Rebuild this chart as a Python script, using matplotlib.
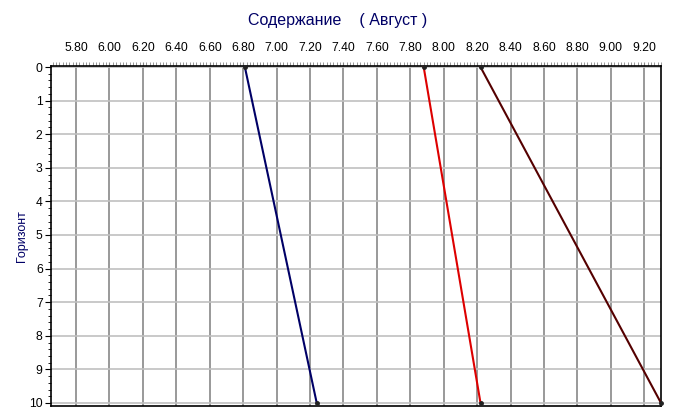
import matplotlib
matplotlib.use("Agg")
import matplotlib.pyplot as plt
from matplotlib.ticker import MultipleLocator, FormatStrFormatter

depth = [0, 10]
series_blue = [6.81, 7.24]
series_red = [7.88, 8.22]
series_brown = [8.22, 9.30]
colors = ["#000066", "#dd0000", "#550000"]

title = "Содержание    ( Август )"
ylabel = "Горизонт"

plt.rcParams['font.family'] = ['Liberation Sans', 'DejaVu Sans']
fig = plt.figure(figsize=(6.75, 4.19), dpi=100)
ax = fig.add_axes([51/675, 1-406/419, 610/675, (406-66)/419])

for vals, c in zip([series_blue, series_red, series_brown], colors):
    ax.plot(vals, depth, color=c, lw=1.5, zorder=3, clip_on=False)
    ax.plot(vals, depth, 'o', color='#222222', ms=2.5, zorder=4, clip_on=False)

ax.set_xlim(5.65, 9.30)
ax.set_ylim(10.09, -0.03)
ax.xaxis.set_major_locator(MultipleLocator(0.2))
ax.xaxis.set_minor_locator(MultipleLocator(0.02))
ax.xaxis.set_major_formatter(FormatStrFormatter('%.2f'))
ax.yaxis.set_major_locator(MultipleLocator(1))
ax.yaxis.set_minor_locator(MultipleLocator(0.2))
ax.xaxis.tick_top()
ax.tick_params(axis='x', which='major', length=3, labelsize=8.7, pad=6, color='#888888')
ax.tick_params(axis='x', which='minor', length=3, color='#888888')
ax.tick_params(axis='y', which='major', length=4, labelsize=8.7, pad=2)
ax.tick_params(axis='y', which='minor', length=2)
ax.grid(axis='x', which='major', color='#888888', lw=1.2)
ax.grid(axis='y', which='major', color='#c0c0c0', lw=1.2)
for s in ax.spines.values():
    s.set_color('black')
    s.set_linewidth(1.2)

fig.text(0.5, 1-20/419, title, ha='center', va='center', color='#000066', fontsize=11.5)
ax.set_ylabel(ylabel, color='#000066', fontsize=9, labelpad=1)

fig.savefig("out.png", dpi=100)
